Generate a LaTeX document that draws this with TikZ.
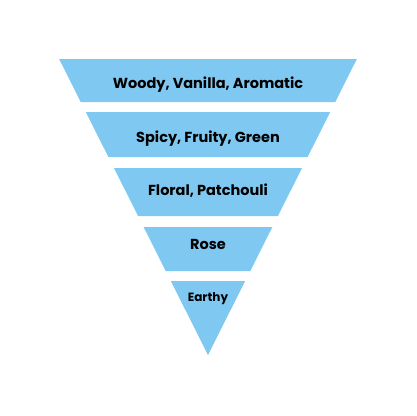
\documentclass[tikz,border=0pt]{standalone}
\usepackage{fontspec}
\setmainfont{Poppins}
\begin{document}
\begin{tikzpicture}[x=1pt,y=-1pt]
    \definecolor{skyblue}{RGB}{126,200,242}
    \tikzset{
        layer/.style={fill=skyblue,draw=none},
        lbl/.style={font=\bfseries\fontsize{14.5}{16}\selectfont,text=black,inner sep=0pt,anchor=base},
        lblsmall/.style={lbl,font=\bfseries\fontsize{12}{14}\selectfont}
    }
    \useasboundingbox (0,0) rectangle (416,416);
    \coordinate (apex) at (208,355);
    % trapezoid layers, all on one triangle
    \foreach \yt/\yb in {59/102,112/157,168/216,227/271}{
        \pgfmathsetmacro\wt{0.503*(355-\yt)}
        \pgfmathsetmacro\wb{0.503*(355-\yb)}
        \fill[layer] (208-\wt,\yt) -- (208+\wt,\yt) -- (208+\wb,\yb) -- (208-\wb,\yb) -- cycle;
    }
    % tip
    \fill[layer] (170.8,281) -- (245.2,281) -- (apex) -- cycle;
    \node[lbl] (woody) at (208,88.3) {Woody, Vanilla, Aromatic};
    \node[lbl] (spicy) at (208,142.3) {Spicy, Fruity, Green};
    \node[lbl] (floral) at (208,195.7) {Floral, Patchouli};
    \node[lbl] (rose) at (208,249.3) {Rose};
    \node[lblsmall] (earthy) at (208,301.7) {Earthy};
\end{tikzpicture}
\end{document}
